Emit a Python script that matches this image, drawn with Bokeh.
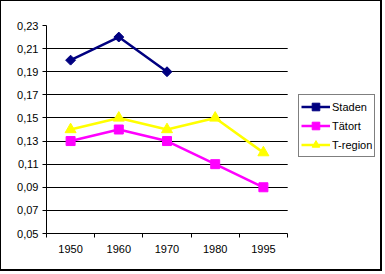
import math
from bokeh.plotting import figure
from bokeh.models import (FixedTicker, CustomJSTickFormatter, Legend, LegendItem,
                          ColumnDataSource, Range1d, BoxAnnotation)
from bokeh.embed import file_html
from bokeh.resources import INLINE

years = ["1950", "1960", "1970", "1980", "1995"]
staden = [0.20, 0.22, 0.19]
tatort = [0.13, 0.14, 0.13, 0.11, 0.09]
tregion = [0.14, 0.15, 0.14, 0.15, 0.12]
y_ticks = [0.05, 0.07, 0.09, 0.11, 0.13, 0.15, 0.17, 0.19, 0.21, 0.23]

n = len(years)
xc = [i + 0.5 for i in range(n)]

# canvas 382x271 + css border (1 left/top, 2 right/bottom) = 385x274
# frame spans to the right canvas edge; data area (0..n) occupies 241 of its 337 px
X_END = n * 337 / 241

p = figure(width=382, height=271, output_backend="svg", toolbar_location=None,
           x_range=Range1d(0, X_END), y_range=Range1d(0.05, 0.23),
           min_border_left=45, min_border_right=0, min_border_top=24, min_border_bottom=39)
p.background_fill_color = "white"
p.border_fill_color = "white"
p.outline_line_color = None
p.styles = {"border-left": "1px solid black", "border-top": "1px solid black",
            "border-right": "2px solid black", "border-bottom": "2px solid black"}

FONT = "Liberation Sans"

# x axis
p.xaxis.bounds = (0, n)
p.xaxis.ticker = FixedTicker(ticks=xc, minor_ticks=list(range(n + 1)))
p.xaxis.major_label_overrides = {x: y for x, y in zip(xc, years)}
p.xaxis.major_tick_line_color = None
p.xaxis.minor_tick_line_color = "black"
p.xaxis.minor_tick_out = 4
p.xaxis.minor_tick_in = 0
p.xaxis.axis_line_color = "black"
p.xaxis.major_label_standoff = 5
p.xaxis.major_label_text_font = FONT
p.xaxis.major_label_text_font_size = "11px"
p.xaxis.major_label_text_color = "black"
p.xgrid.grid_line_color = None

# y axis
p.yaxis.ticker = FixedTicker(ticks=y_ticks, minor_ticks=[])
p.yaxis.formatter = CustomJSTickFormatter(code="return tick.toFixed(2).replace('.', ',');")
p.yaxis.major_tick_out = 4
p.yaxis.major_tick_in = 0
p.yaxis.major_tick_line_color = "black"
p.yaxis.axis_line_color = "black"
p.yaxis.major_label_standoff = 4
p.yaxis.major_label_text_font = FONT
p.yaxis.major_label_text_font_size = "11px"
p.yaxis.major_label_text_color = "black"
p.ygrid.ticker = FixedTicker(ticks=y_ticks)
p.ygrid.grid_line_color = "black"
p.ygrid.grid_line_alpha = 1.0

# blank out the grid beyond the plot area (legend zone)
p.add_layout(BoxAnnotation(left=n + 0.004, fill_color="white", fill_alpha=1.0,
                           line_color=None, level="underlay"))

s_src = ColumnDataSource(dict(x=xc[:len(staden)], y=staden))
t_src = ColumnDataSource(dict(x=xc, y=tatort))
r_src = ColumnDataSource(dict(x=xc, y=tregion))

l3 = p.line("x", "y", source=r_src, line_color="#FFFF00", line_width=2.5)
m3 = p.scatter("x", "y", source=r_src, marker="triangle", size=11,
               fill_color="#FFFF00", line_color="#FFFF00")
l2 = p.line("x", "y", source=t_src, line_color="#FF00FF", line_width=2.5)
m2 = p.scatter("x", "y", source=t_src, marker="square", size=9,
               fill_color="#FF00FF", line_color="#FF00FF")
l1 = p.line("x", "y", source=s_src, line_color="#000080", line_width=2.5)
m1 = p.scatter("x", "y", source=s_src, marker="square", angle=math.pi / 4, size=7,
               fill_color="#000080", line_color="#000080")

legend = Legend(items=[
    LegendItem(label="Staden", renderers=[l1, m1]),
    LegendItem(label="Tätort", renderers=[l2, m2]),
    LegendItem(label="T-region", renderers=[l3, m3]),
], location=(252, 76))
legend.label_text_font = FONT
legend.label_text_font_size = "11px"
legend.label_text_color = "black"
legend.glyph_width = 29
legend.glyph_height = 19
legend.label_height = 19
legend.label_standoff = 2
legend.spacing = 0
legend.padding = 2
legend.margin = 0
legend.border_line_color = "black"
legend.border_line_width = 1
legend.background_fill_color = "white"
legend.background_fill_alpha = 1.0
p.add_layout(legend, "center")

open("out.html", "w").write(file_html(p, INLINE))
